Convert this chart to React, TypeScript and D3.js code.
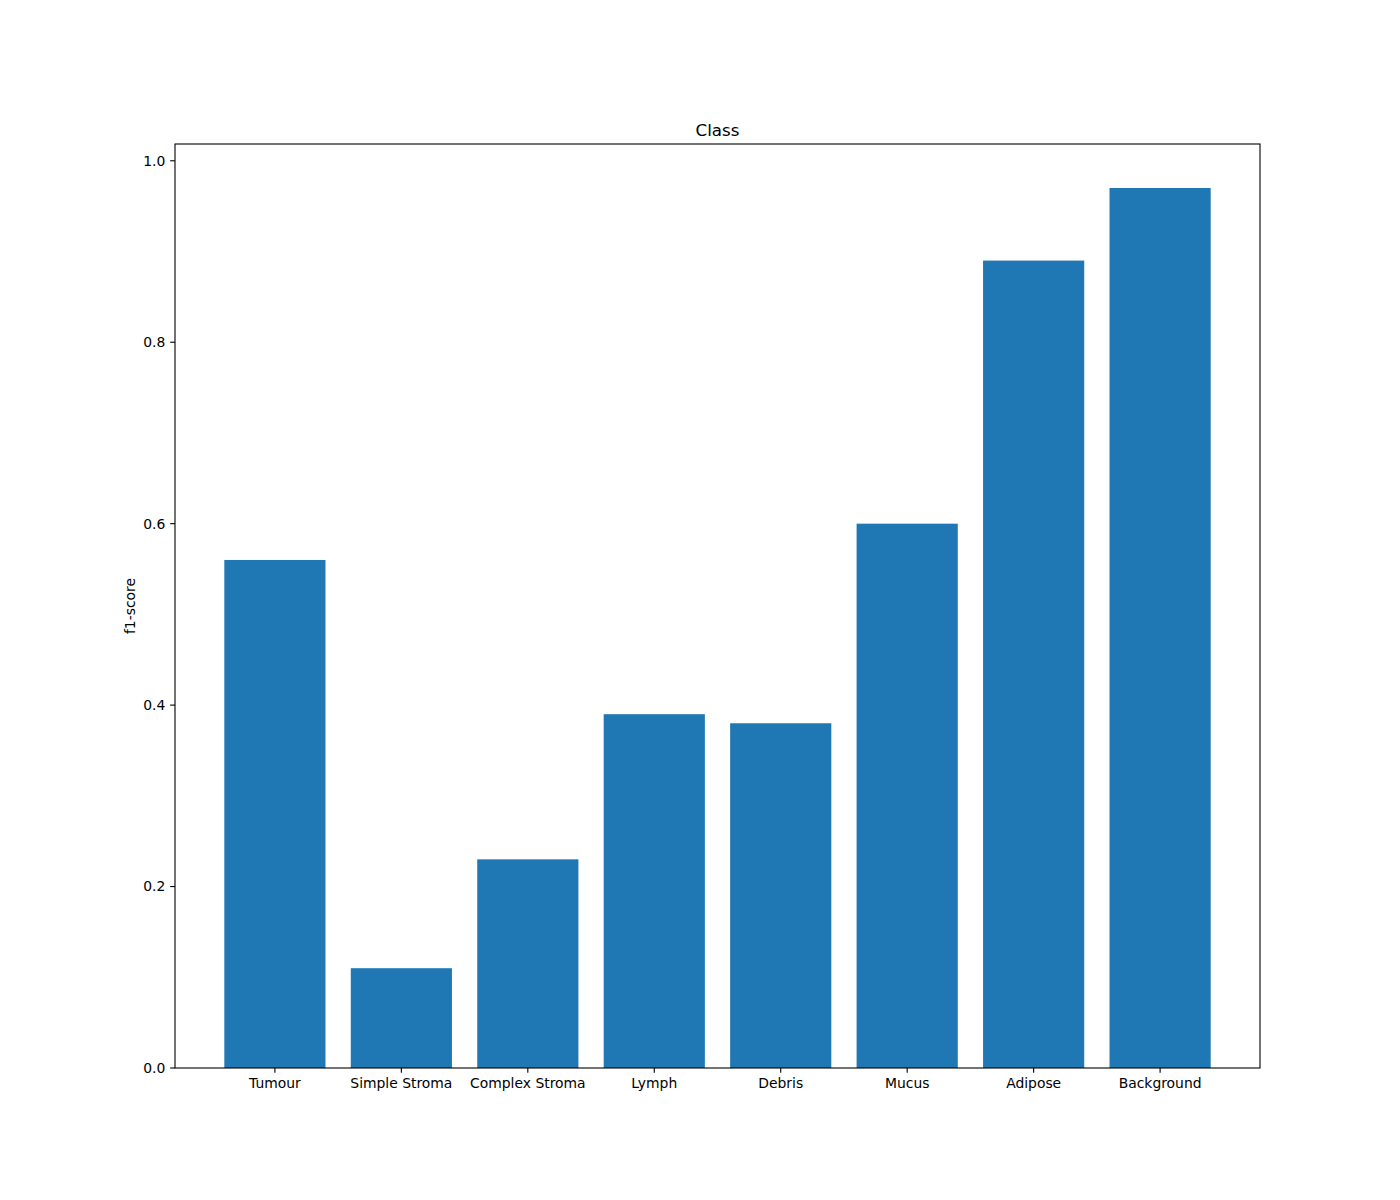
import React, { useEffect, useRef } from "react";
import * as d3 from "d3";

// chart data
const classes = ["Tumour", "Simple Stroma", "Complex Stroma", "Lymph", "Debris", "Mucus", "Adipose", "Background"];
const f1Scores = [0.56, 0.11, 0.23, 0.39, 0.38, 0.6, 0.89, 0.97];
const yTicks = [0, 0.2, 0.4, 0.6, 0.8, 1.0];

const W = 1400;
const H = 1200;

export default function App() {
  const ref = useRef<SVGSVGElement>(null);

  useEffect(() => {
    const svg = d3.select(ref.current);
    svg.selectAll("*").remove();

    // same layout as matplotlib defaults (left .125, right .9, bottom .11, top .88)
    const margin = { top: 144, right: 140, bottom: 132, left: 175 };
    const w = W - margin.left - margin.right;
    const h = H - margin.top - margin.bottom;
    const font = "DejaVu Sans, sans-serif";
    const tickLen = 4.86;

    const g = svg.append("g").attr("transform", `translate(${margin.left},${margin.top})`);

    // x: bars of width 0.8 around integer positions, 5% margins
    const n = classes.length;
    const lo = -0.4, hi = n - 1 + 0.4;
    const pad = (hi - lo) * 0.05;
    const x = d3.scaleLinear().domain([lo - pad, hi + pad]).range([0, w]);

    const yMax = d3.max(f1Scores) as number;
    const y = d3.scaleLinear().domain([0, yMax * 1.05]).range([h, 0]);

    // bars
    g.selectAll("rect.bar")
      .data(f1Scores)
      .join("rect")
      .attr("class", "bar")
      .attr("x", (d, i) => x(i - 0.4))
      .attr("width", x(0.8) - x(0))
      .attr("y", (d) => y(d))
      .attr("height", (d) => h - y(d))
      .attr("fill", "#1f77b4");

    // x ticks
    const xt = g.selectAll("g.xt").data(classes).join("g").attr("class", "xt")
      .attr("transform", (d, i) => `translate(${x(i)},${h})`);
    xt.append("line").attr("y2", tickLen).attr("stroke", "black").attr("stroke-width", 1.1);
    xt.append("text")
      .attr("y", tickLen + 4.86 + 10.6)
      .attr("text-anchor", "middle")
      .style("font-family", font)
      .style("font-size", "13.9px")
      .text((d) => d);

    // y ticks
    const yt = g.selectAll("g.yt").data(yTicks).join("g").attr("class", "yt")
      .attr("transform", (d) => `translate(0,${y(d)})`);
    yt.append("line").attr("x2", -tickLen).attr("stroke", "black").attr("stroke-width", 1.1);
    yt.append("text")
      .attr("x", -tickLen - 4.86)
      .attr("dy", "0.35em")
      .attr("text-anchor", "end")
      .style("font-family", font)
      .style("font-size", "13.9px")
      .text((d) => d3.format(".1f")(d));

    // frame
    g.append("rect")
      .attr("width", w)
      .attr("height", h)
      .attr("fill", "none")
      .attr("stroke", "black")
      .attr("stroke-width", 1.1);

    // title
    g.append("text")
      .attr("x", w / 2)
      .attr("y", -8.3)
      .attr("text-anchor", "middle")
      .style("font-family", font)
      .style("font-size", "16.7px")
      .text("Class");

    // y label
    g.append("text")
      .attr("transform", `translate(${-40},${h / 2}) rotate(-90)`)
      .attr("text-anchor", "middle")
      .style("font-family", font)
      .style("font-size", "13.9px")
      .text("f1-score");
  }, []);

  return (
    <svg
      ref={ref}
      width={W}
      height={H}
      style={{ position: "absolute", left: 0, top: 0, background: "white" }}
    />
  );
}
